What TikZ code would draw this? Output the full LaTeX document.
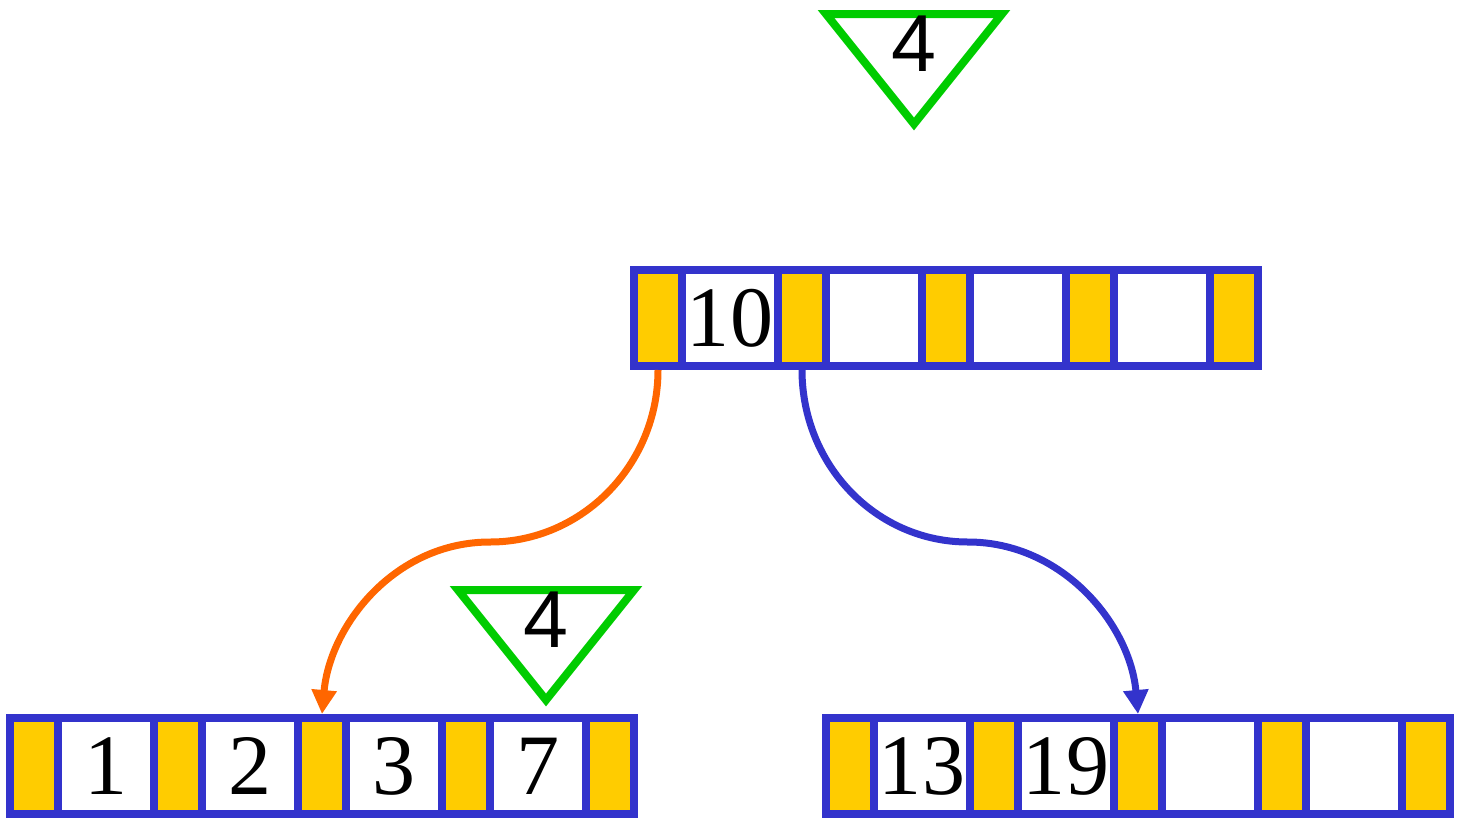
\documentclass[tikz,border=0pt]{standalone}
\usepackage{fontspec}
\setmainfont{Liberation Serif}
\newfontfamily\markfont{Liberation Sans}
\usepackage{xcolor}
\definecolor{NodeBlue}{RGB}{51,51,204}
\definecolor{PtrYellow}{RGB}{255,204,0}
\definecolor{LinkOrange}{RGB}{255,102,0}
\definecolor{MarkGreen}{RGB}{0,204,0}
\usetikzlibrary{math,arrows.meta}
\tikzset{%
  px/.style={x={(0.02cm,0cm)},y={(0cm,-0.02cm)}},
  ptr cell/.style={draw=NodeBlue, fill=PtrYellow, line width=0.16cm, outer sep=0.08cm,
    minimum width=0.96cm, minimum height=1.92cm, inner sep=0pt},
  key cell/.style={ptr cell, fill=white, minimum width=1.92cm,
    font=\fontsize{49}{49}\selectfont},
  link/.style={line width=0.14cm, -{Triangle[length=0.48cm,width=0.48cm]}},
  height mark/.style={draw=MarkGreen, line width=0.16cm, line join=miter}
}

\begin{document}
\begin{tikzpicture}[px]
    \tikzmath{
      \pw=48; % pointer cell width
      \kw=96; % key cell width
      \cw=\pw+\kw; % one pointer and one key
    }
    \useasboundingbox (0,0) rectangle (1460,822);
    % root node
    \foreach \i/\lab in {0/10,1/{},2/{},3/{}} {
      \node[ptr cell] (t\i) at (658+\i*\cw,318) {};
      \node[key cell] (tk\i) at (658+\i*\cw+72,318) {\lab};
    }
    \node[ptr cell] (t4) at (658+4*\cw,318) {};
    % left leaf
    \foreach \i/\lab in {0/1,1/2,2/3,3/7} {
      \node[ptr cell] (l\i) at (34+\i*\cw,766) {};
      \node[key cell] (lk\i) at (34+\i*\cw+72,766) {\lab};
    }
    \node[ptr cell] (l4) at (34+4*\cw,766) {};
    % right leaf
    \foreach \i/\lab in {0/13,1/19,2/{},3/{}} {
      \node[ptr cell] (r\i) at (850+\i*\cw,766) {};
      \node[key cell] (rk\i) at (850+\i*\cw+72,766) {\lab};
    }
    \node[ptr cell] (r4) at (850+4*\cw,766) {};
    % links
    \coordinate (lbend) at (490,542);
    \coordinate (rbend) at (968,542);
    \draw[link, LinkOrange] (t0.south) .. controls +(0,95) and +(92,0) .. (lbend)
      .. controls +(-95,0) and +(8,-89) .. (l2.north);
    \draw[link, NodeBlue] (t1.south) .. controls +(0,95) and +(-92,0) .. (rbend)
      .. controls +(95,0) and +(-8,-89) .. (r2.north);
    % height marks
    \foreach \x/\y/\n in {914/14/top, 546/590/low} {
      \draw[height mark] (\x-88,\y) -- (\x+88,\y) -- (\x,\y+110) -- cycle;
      \node[inner sep=0pt, font=\fontsize{46}{46}\selectfont\markfont] (\n mark) at (\x,\y+30) {4};
    }
\end{tikzpicture}
\end{document}
